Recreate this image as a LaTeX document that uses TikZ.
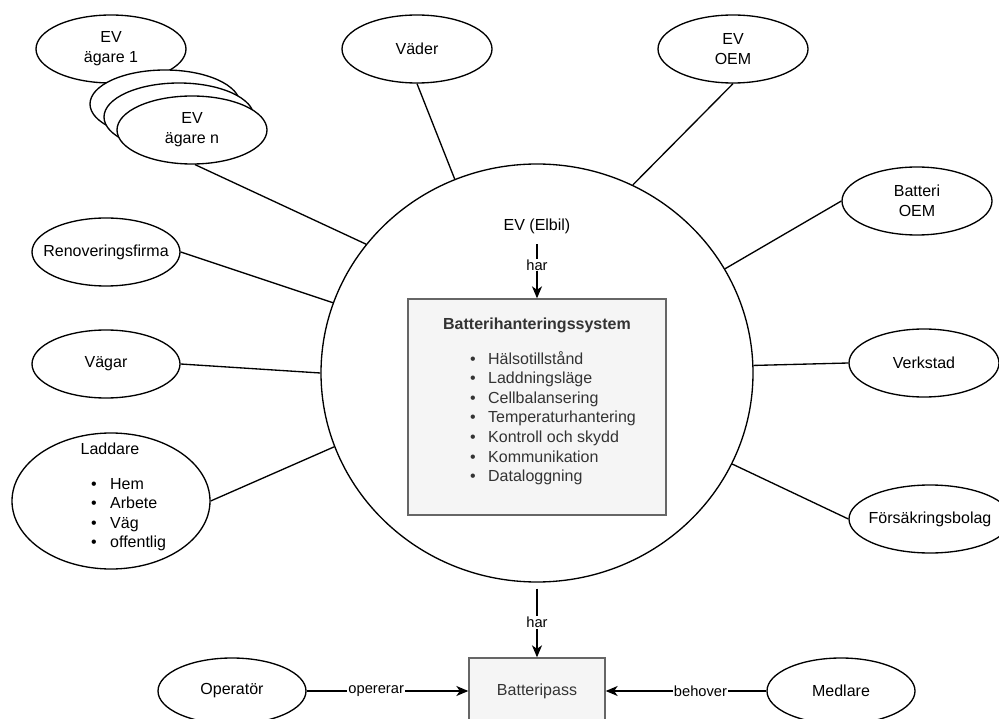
\documentclass[tikz,border=0pt]{standalone}
\usepackage{fontspec}
\setmainfont{Liberation Sans}
\usetikzlibrary{arrows.meta,shapes.geometric}
\definecolor{boxfill}{HTML}{F5F5F5}
\definecolor{boxline}{HTML}{666666}
\definecolor{boxtext}{HTML}{333333}

\begin{document}
\begin{tikzpicture}[x=1pt,y=-1pt,
  every node/.style={font=\fontsize{16}{20}\selectfont},
  entity/.style={ellipse, draw, line width=1.33pt, fill=white,
    minimum width=150pt, minimum height=68pt, inner sep=0pt, align=center},
  link/.style={line width=1.33pt},
  arr/.style={link, -{Stealth[length=12pt,width=10pt,inset=3.5pt]}},
  edgelabel/.style={fill=white, inner sep=1pt, font=\fontsize{14.67}{17}\selectfont},
  greybox/.style={rectangle, draw=boxline, fill=boxfill, line width=1.33pt, text=boxtext},
  item/.style={anchor=base west, inner sep=0pt}
]
\useasboundingbox (0,0) rectangle (999,719);
\clip (0,0) rectangle (999,719);

% central vehicle
\node[ellipse, draw, line width=1.33pt, minimum width=432pt, minimum height=418pt, inner sep=0pt] (ev) at (537,373) {};
\node[anchor=base] (evlabel) at (537,231) {EV (Elbil)};

% battery management system
\node[greybox, minimum width=258pt, minimum height=216pt] (bms) at (537,407) {};
\node[anchor=base, text=boxtext, font=\fontsize{16}{20}\selectfont\bfseries] (bmstitle) at (537,330) {Batterihanteringssystem};
\foreach \t [count=\i] in {Hälsotillstånd, Laddningsläge, Cellbalansering, Temperaturhantering, Kontroll och skydd, Kommunikation, Dataloggning}
  \node[item, text=boxtext] (bms\i) at (470, {364+19.6*(\i-1)}) {\makebox[18pt][l]{\textbullet}\t};

% owners
\node[entity] (ev1) at (111,49) {EV\\ägare 1};
\node[entity] (evA) at (165,104) {};
\node[entity] (evB) at (179,117) {};
\node[entity] (evn) at (192,130) {EV\\ägare n};

% surrounding actors
\node[entity] (vader) at (417,49) {Väder};
\node[entity] (evoem) at (733,49) {EV\\OEM};
\node[entity] (batoem) at (917,201) {Batteri\\OEM};
\node[entity] (verkstad) at (924,363) {Verkstad};
\node[entity, minimum width=162pt, inner xsep=-20pt] (forsak) at (930,519) {Försäkringsbolag};
\node[entity, minimum width=148pt, inner xsep=-20pt] (renov) at (106,252) {Renoveringsfirma};
\node[entity, minimum width=148pt] (vagar) at (106,364) {Vägar};

% chargers
\node[entity, minimum width=198pt, minimum height=136pt] (laddare) at (111,501) {};
\node[anchor=base] (laddtitle) at (110,454) {Laddare};
\foreach \t [count=\i] in {Hem, Arbete, Väg, offentlig}
  \node[item] (ladd\i) at (91, {489+19.6*(\i-1)}) {\makebox[19pt][l]{\textbullet}\t};

% battery passport and its users
\node[greybox, minimum width=136pt, minimum height=66pt] (pass) at (537,691) {Batteripass};
\node[entity, minimum width=148pt, minimum height=66pt] (operator) at (232,691) {Operatör};
\node[entity, minimum width=148pt, minimum height=66pt] (medlare) at (841,691) {Medlare};

% links to the vehicle
\draw[link] (evn.-85) -- (ev.143.4);
\draw[link] (vader.south) -- (ev.113.5);
\draw[link] (evoem.south) -- (ev.63.3);
\draw[link] (batoem.west) -- (ev.29.4);
\draw[link] (verkstad.west) -- (ev.2.9);
\draw[link] (forsak.west) -- (ev.-25.1);
\draw[link] (renov.east) -- (ev.161.1);
\draw[link] (vagar.east) -- (ev.180);
\draw[link] (laddare.east) -- (ev.200.6);

% relations
\draw[arr, shorten <=6.5pt] (evlabel.south) -- (bms.north) node[edgelabel, pos=0.45] {har};
\draw[arr, shorten <=6pt] (ev.south) -- (pass.north) node[edgelabel, pos=0.53] {har};
\draw[arr] (operator.east) -- (pass.west) node[edgelabel, pos=0.43] {opererar};
\draw[arr] (medlare.west) -- (pass.east) node[edgelabel, pos=0.41] {behover};
\end{tikzpicture}
\end{document}
